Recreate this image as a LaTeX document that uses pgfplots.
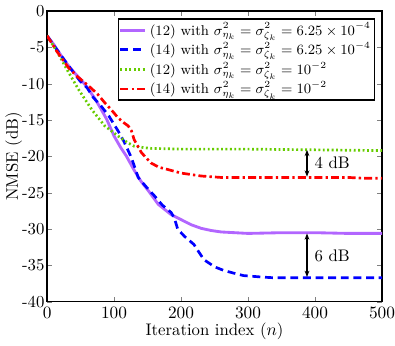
\documentclass[border=0pt]{standalone}
\usepackage{pgfplots}
\pgfplotsset{compat=1.18}
\usetikzlibrary{arrows.meta}
\definecolor{mpurple}{RGB}{178,102,255}
\definecolor{mgreen}{RGB}{102,204,0}

\begin{document}
\begin{tikzpicture}
\begin{axis}[scale only axis, width=212pt, height=184pt,
  xmin=0, xmax=500, ymin=-40, ymax=0,
  xtick={0,100,...,500}, ytick={-40,-35,...,0},
  yticklabels={-40,-35,-30,-25,-20,-15,-10,-5,0},
  tick align=inside, tick pos=both, major tick length=3pt,
  axis line style={line width=0.8pt},
  tick label style={font=\fontsize{10.6}{12.7}\selectfont},
  label style={font=\fontsize{10.6}{12.7}\selectfont},
  xticklabel style={inner xsep=0pt},
  yticklabel style={inner xsep=1.5pt},
  xlabel={Iteration index ($n$)}, ylabel={NMSE (dB)},
  xlabel style={yshift=4pt}, ylabel style={yshift=-5pt},
  legend cell align=left,
  legend style={at={(0.98,0.975)}, anchor=north east, draw=black, line width=0.8pt,
    inner sep=0.5pt, row sep=-0.8pt, font=\small},
  legend image code/.code={\draw[#1] (0cm,0cm) -- (0.55cm,0cm);},
]
\addplot[mpurple, line width=1.8pt] coordinates {
(0,-3.4)(10,-4.6)(20,-6.0)(30,-7.3)(40,-8.4)(52,-9.6)(60,-10.5)(71,-12.0)(80,-13.4)
(89,-14.9)(100,-17.2)(110,-18.8)(118,-19.9)(130,-21.9)(140,-23.4)(151,-24.7)(166,-26.6)
(185,-28.0)(200,-28.7)(215,-29.4)(230,-29.9)(245,-30.2)(260,-30.4)(280,-30.5)(300,-30.6)
(350,-30.5)(400,-30.5)(450,-30.6)(500,-30.6)};
\addlegendentry{(12) with $\sigma^{2}_{\eta_k}=\sigma^{2}_{\zeta_k}=6.25\times10^{-4}$}
\addplot[blue, line width=1.7pt, dash pattern=on 5pt off 3pt] coordinates {
(0,-3.4)(20,-6.0)(35,-7.9)(49,-9.6)(60,-10.6)(69,-11.9)(80,-13.0)(92,-14.4)(100,-15.6)
(106,-16.5)(115,-18.0)(126,-20.2)(136,-22.9)(148,-24.2)(160,-25.4)(172,-26.7)(185,-27.7)
(190,-28.5)(195,-30.0)(205,-31.0)(219,-32.1)(234,-34.2)(250,-35.2)(264,-35.7)(280,-36.1)
(293,-36.4)(320,-36.6)(338,-36.7)(400,-36.7)(500,-36.7)};
\addlegendentry{(14) with $\sigma^{2}_{\eta_k}=\sigma^{2}_{\zeta_k}=6.25\times10^{-4}$}
\addplot[mgreen, line width=1.7pt, dash pattern=on 1.2pt off 1.6pt] coordinates {
(0,-3.4)(15,-5.6)(30,-8.1)(47,-10.8)(67,-13.6)(86,-15.8)(106,-17.2)(120,-18.1)(130,-18.6)
(145,-18.8)(155,-18.9)(200,-19.0)(300,-19.0)(400,-19.1)(500,-19.2)};
\addlegendentry{(12) with $\sigma^{2}_{\eta_k}=\sigma^{2}_{\zeta_k}=10^{-2}$}
\addplot[red, line width=1.7pt, dash pattern=on 5pt off 2pt on 1.5pt off 2pt] coordinates {
(0,-3.4)(15,-5.6)(32,-7.8)(45,-9.0)(62,-10.3)(75,-11.4)(86,-12.6)(96,-13.6)(106,-14.7)
(115,-15.4)(121,-15.8)(126,-16.5)(130,-17.7)(141,-19.5)(155,-20.9)(167,-21.5)(180,-21.8)
(200,-22.3)(230,-22.7)(260,-22.9)(300,-22.9)(400,-22.9)(450,-22.9)(470,-23.0)(500,-23.0)};
\addlegendentry{(14) with $\sigma^{2}_{\eta_k}=\sigma^{2}_{\zeta_k}=10^{-2}$}
\draw[{Stealth[length=4pt]}-{Stealth[length=4pt]}, line width=0.7pt] (axis cs:388,-19.1) -- (axis cs:388,-22.8);
\draw[{Stealth[length=4pt]}-{Stealth[length=4pt]}, line width=0.7pt] (axis cs:388,-30.6) -- (axis cs:388,-36.6);
\node[anchor=west, inner sep=0pt, font=\fontsize{10.6}{12.7}\selectfont] at (axis cs:399,-20.9) {4 dB};
\node[anchor=west, inner sep=0pt, font=\fontsize{10.6}{12.7}\selectfont] at (axis cs:399,-33.7) {6 dB};
\end{axis}
\end{tikzpicture}
\end{document}
